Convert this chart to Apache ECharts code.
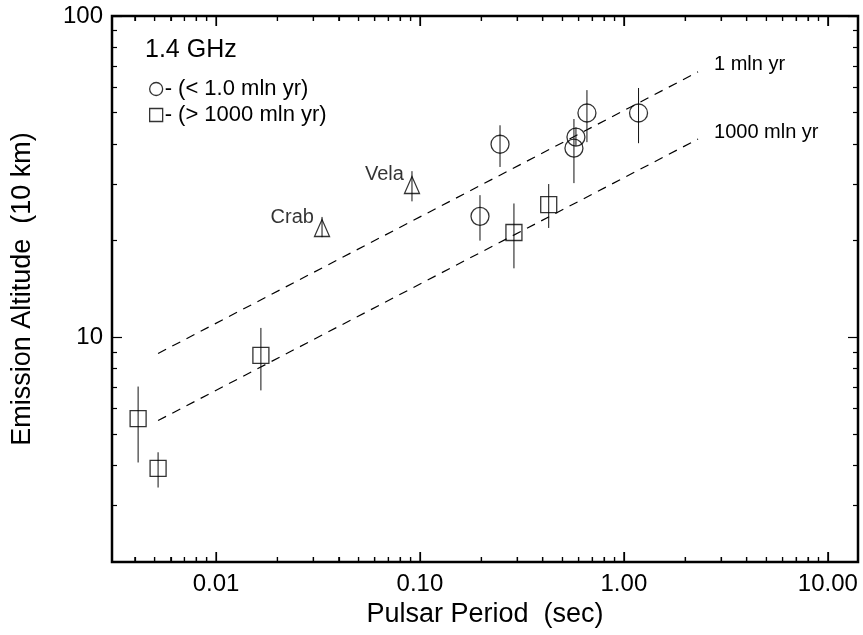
<!DOCTYPE html>
<html>
<head>
<meta charset="utf-8">
<script src="https://cdn.jsdelivr.net/npm/echarts@6/dist/echarts.min.js"></script>
<style>
  html, body { margin: 0; padding: 0; background: #fff; }
  #chart { width: 863px; height: 635px; }
</style>
</head>
<body>
<div id="chart"></div>
<script>
// 1.4 GHz emission altitude vs pulsar period (log-log)
// young pulsars (< 1.0 mln yr): period (s), altitude, error low, error high
const youngPeriod = [0.197, 0.247, 0.569, 0.582, 0.659, 1.18];
const youngAlt = [23.8, 39.9, 38.8, 42.0, 49.9, 49.9];
const youngLo = [20.0, 33.9, 30.2, 39.4, 40.5, 40.2];
const youngHi = [27.7, 45.7, 47.8, 45.0, 58.8, 59.7];

// old pulsars (> 1000 mln yr)
const oldPeriod = [0.00415, 0.0052, 0.0166, 0.289, 0.428];
const oldAlt = [5.59, 3.91, 8.79, 21.2, 25.9];
const oldLo = [4.08, 3.41, 6.84, 16.4, 21.9];
const oldHi = [7.03, 4.39, 10.7, 26.1, 30.0];

// Crab and Vela
const namedPsr = ['Crab', 'Vela'];
const namedPeriod = [0.0331, 0.0914];
const namedAlt = [21.9, 29.8];
const namedLo = [20.5, 26.5];
const namedHi = [23.7, 32.9];

// dashed age lines (end points)
const linePeriod = [0.0052, 2.31];
const line1mln = [8.91, 67.0];
const line1000mln = [5.51, 41.4];

const xTickLabels = [0.01, 0.1, 1, 10];
const yTickLabels = [10, 100];

const FONT = 'Liberation Sans, Arial, Helvetica, sans-serif';
const lg = Math.log10;

const xMin = -2.51, xMax = 1.148;
const yMin = lg(2), yMax = 2;

// log ticks
function minorTicks(lo, hi) {
	let arr = [];
	for (let d = -4; d <= 3; d++) {
		for (let m = 2; m <= 9; m++) {
			let v = lg(m) + d;
			if (v > lo && v < hi) arr.push(v);
		}
	}
	return arr;
}
const xMajor = xTickLabels.map(v => lg(v));
const yMajor = yTickLabels.map(v => lg(v));
const xMinor = minorTicks(xMin, xMax);
const yMinor = minorTicks(yMin, yMax);

function pts(px, py) {
	return px.map((p, i) => [lg(p), lg(py[i])]);
}
function bars(px, lo, hi) {
	return px.map((p, i) => [lg(p), lg(lo[i]), lg(hi[i])]);
}

function tickAxis(pos, isX, values, len, labels) {
	const ax = {
		type: 'value',
		position: pos,
		min: isX ? xMin : yMin,
		max: isX ? xMax : yMax,
		axisLine: { show: false, onZero: false },
		splitLine: { show: false },
		axisTick: {
			show: true,
			inside: true,
			length: len,
			customValues: values,
			lineStyle: { color: '#000', width: 1.2 }
		},
		axisLabel: { show: false }
	};
	if (labels) {
		ax.axisLabel = {
			show: true,
			customValues: values,
			color: '#000',
			fontFamily: FONT,
			fontSize: 24,
			margin: isX ? 10 : 9,
			formatter: v => isX ? Math.pow(10, v).toFixed(2) : String(Math.round(Math.pow(10, v)))
		};
	}
	return ax;
}

const xAxes = [
	Object.assign(tickAxis('bottom', true, xMajor, 10, true), {
		name: 'Pulsar Period  (sec)',
		nameLocation: 'middle',
		nameGap: 38,
		nameTextStyle: { color: '#000', fontFamily: FONT, fontSize: 27 }
	}),
	tickAxis('bottom', true, xMinor, 5, false),
	tickAxis('top', true, xMajor, 10, false),
	tickAxis('top', true, xMinor, 5, false)
];
const yAxes = [
	Object.assign(tickAxis('left', false, yMajor, 10, true), {
		name: 'Emission Altitude  (10 km)',
		nameLocation: 'middle',
		nameGap: 76,
		nameTextStyle: { color: '#000', fontFamily: FONT, fontSize: 27 }
	}),
	tickAxis('left', false, yMinor, 5, false),
	tickAxis('right', false, yMajor, 10, false),
	tickAxis('right', false, yMinor, 5, false)
];

// tick marks along the bottom and top of the frame, one line pair per x tick value
const xTickData = xMajor.map(v => [v, 1.0, 10]).concat(xMinor.map(v => [v, 1.0, 5]));

function frameTicks() {
	return {
		type: 'custom',
		silent: true,
		z: 10,
		clip: false,
		renderItem: function(params, api) {
			const mid = api.coord([api.value(0), api.value(1)]);
			const b = api.coord([api.value(0), yMin]);
			const t = api.coord([api.value(0), yMax]);
			const len = api.value(2);
			return {
				type: 'group',
				children: [
					{
						type: 'line',
						shape: { x1: mid[0], y1: b[1], x2: mid[0], y2: b[1] - len },
						style: { stroke: '#000', lineWidth: 1.2 }
					},
					{
						type: 'line',
						shape: { x1: mid[0], y1: t[1], x2: mid[0], y2: t[1] + len },
						style: { stroke: '#000', lineWidth: 1.2 }
					}
				]
			};
		},
		encode: { x: 0, y: 1 },
		data: xTickData
	};
}

function errorBars(data) {
	return {
		type: 'custom',
		silent: true,
		z: 3,
		renderItem: function(params, api) {
			const p1 = api.coord([api.value(0), api.value(1)]);
			const p2 = api.coord([api.value(0), api.value(2)]);
			return {
				type: 'line',
				shape: { x1: p1[0], y1: p1[1], x2: p2[0], y2: p2[1] },
				style: { stroke: '#111', lineWidth: 1 }
			};
		},
		encode: { x: 0, y: [1, 2] },
		data: data
	};
}

const markStyle = { color: 'rgba(0,0,0,0)', borderColor: '#000', borderWidth: 1.3 };

function ageLine(vals, label) {
	return {
		type: 'line',
		data: pts(linePeriod, vals),
		symbol: 'none',
		silent: true,
		z: 2,
		lineStyle: { color: '#000', width: 1.2, type: [9, 7] },
		endLabel: {
			show: true,
			formatter: label,
			offset: [8, -7],
			color: '#000',
			fontFamily: FONT,
			fontSize: 20
		}
	};
}

const option = {
	animation: false,
	backgroundColor: '#fff',
	grid: {
		left: 112,
		right: 5,
		top: 16,
		bottom: 73,
		show: true,
		borderColor: '#000',
		borderWidth: 2.5,
		backgroundColor: 'transparent'
	},
	xAxis: xAxes,
	yAxis: yAxes,
	legend: {
		orient: 'vertical',
		left: 144,
		top: 73,
		itemWidth: 13,
		itemHeight: 13,
		itemGap: 4,
		selectedMode: false,
		textStyle: { color: '#000', fontFamily: FONT, fontSize: 22, padding: [0, 0, 0, -3] },
		data: [
			{ name: '- (< 1.0 mln yr)', icon: 'circle', itemStyle: markStyle },
			{ name: '- (> 1000 mln yr)', icon: 'rect', itemStyle: markStyle }
		]
	},
	graphic: [
		{
			type: 'text',
			left: 145,
			top: 38,
			style: { text: '1.4 GHz', fill: '#000', font: '25px ' + FONT }
		}
	],
	series: [
		ageLine(line1mln, '1 mln yr'),
		ageLine(line1000mln, '1000 mln yr'),
		errorBars(bars(youngPeriod, youngLo, youngHi)),
		errorBars(bars(oldPeriod, oldLo, oldHi)),
		errorBars(bars(namedPeriod, namedLo, namedHi)),
		frameTicks(),
		{
			name: '- (< 1.0 mln yr)',
			type: 'scatter',
			symbol: 'circle',
			symbolSize: 18,
			z: 4,
			itemStyle: markStyle,
			data: pts(youngPeriod, youngAlt)
		},
		{
			name: '- (> 1000 mln yr)',
			type: 'scatter',
			symbol: 'rect',
			symbolSize: 16,
			z: 4,
			itemStyle: markStyle,
			data: pts(oldPeriod, oldAlt)
		},
		{
			name: 'Crab/Vela',
			type: 'scatter',
			symbol: 'triangle',
			symbolSize: [15, 17],
			z: 4,
			itemStyle: markStyle,
			label: {
				show: true,
				position: 'left',
				distance: 0,
				offset: [0, -10],
				formatter: p => namedPsr[p.dataIndex],
				color: '#000',
				fontFamily: FONT,
				fontSize: 20
			},
			data: pts(namedPeriod, namedAlt)
		}
	]
};

const chart = echarts.init(document.getElementById('chart'), null, { renderer: 'canvas' });
chart.setOption(option);
</script>
</body>
</html>
